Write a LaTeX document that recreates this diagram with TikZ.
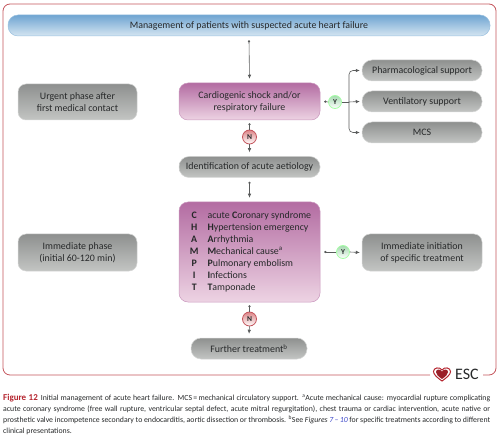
\documentclass[tikz,border=0pt]{standalone}
\usepackage{fontspec}
\setmainfont{Carlito}
\usetikzlibrary{arrows.meta,calc}
\definecolor{txt}{HTML}{262829}
\definecolor{esc}{HTML}{B5252F}
\definecolor{frameR}{HTML}{C4545C}
\definecolor{capBlue}{HTML}{3A45C8}
\definecolor{gray1}{HTML}{8E908F}
\definecolor{gray2}{HTML}{C3C5C3}
\definecolor{gray3}{HTML}{5A5C5C}
\definecolor{pink1}{HTML}{B36CA2}
\definecolor{pink2}{HTML}{EDD3E3}
\definecolor{pink3}{HTML}{DC8587}
\definecolor{green2}{HTML}{A5D8B0}
\definecolor{blue1}{HTML}{6FA5D2}
\definecolor{blue2}{HTML}{D5E5F1}
\tikzset{
  x=1pt,y=-1pt,
  box/.style={draw=#1!70!white,line width=.5pt,rounded corners=9pt,inner sep=0pt,align=center,text=txt,font=\fontsize{9.9}{12}\selectfont},
  graybox/.style={box=gray2,top color=gray1,bottom color=gray2,rounded corners=#1},
  graybox/.default=8pt,
  pinkbox/.style={box=pink1,top color=pink1,bottom color=pink2,rounded corners=9pt},
  yn/.style={circle,inner sep=0pt,text=txt,font=\fontsize{7.5}{8}\bfseries\selectfont},
  ynyes/.style={yn,minimum size=13pt,draw=green!35!white,line width=.8pt,top color=green2,bottom color=white},
  ynno/.style={yn,minimum size=14pt,draw=frameR,line width=.8pt,top color=pink3,bottom color=white},
  link/.style={draw=gray3,line width=.6pt,{Circle[length=2.2pt]}-{Latex[length=4pt,width=3.6pt]}},
  plainl/.style={draw=gray3,line width=.6pt},
  arrowl/.style={draw=gray3,line width=.6pt,-{Latex[length=4pt,width=3.6pt]}},
  captext/.style={anchor=west,inner sep=0pt,text=txt,font=\fontsize{7.8}{9}\selectfont},
}
\begin{document}
\begin{tikzpicture}
\useasboundingbox (0,0) rectangle (500,438);
% frame with gap for logo
\draw[frameR,line width=.8pt,rounded corners=7pt] (430,375) -- (3,375) -- (3,4) -- (496,4) -- (496,375) -- (483,375);
% boxes
\node[box=blue1,top color=blue1,bottom color=blue2,rounded corners=10pt,minimum width=482pt,minimum height=21pt] (head) at (249,25.5) {Management of patients with suspected acute heart failure};
\node[graybox,minimum width=119pt,minimum height=36pt] (urgent) at (77.5,102) {Urgent phase after\\first medical contact};
\node[pinkbox,minimum width=141pt,minimum height=37pt] (cardio) at (249.5,101.5) {Cardiogenic shock and/or\\respiratory failure};
\node[graybox=10pt,minimum width=120pt,minimum height=21pt] (pharm) at (422,70.5) {Pharmacological support};
\node[graybox=10pt,minimum width=120pt,minimum height=21pt] (vent) at (422,101.5) {Ventilatory support};
\node[graybox=10pt,minimum width=120pt,minimum height=21pt] (mcs) at (422,132.5) {MCS};
\node[graybox=10pt,minimum width=141pt,minimum height=21pt] (ident) at (249.5,167) {Identification of acute aetiology};
\node[pinkbox,minimum width=141pt,minimum height=100pt] (champit) at (249.5,252) {%
  \fontsize{9.9}{12.1}\selectfont
  \hspace*{2pt}\begin{tabular}{@{}c@{\hspace{9pt}}l@{}}
  \textbf{C} & acute \textbf{C}oronary syndrome\\
  \textbf{H} & \textbf{H}ypertension emergency\\
  \textbf{A} & \textbf{A}rrhythmia\\
  \textbf{M} & \textbf{M}echanical cause\textsuperscript{a}\\
  \textbf{P} & \textbf{P}ulmonary embolism\\
  \textbf{I} & \textbf{I}nfections\\
  \textbf{T} & \textbf{T}amponade\\
  \end{tabular}};
\node[graybox,minimum width=119pt,minimum height=37pt] (immed) at (77.5,252.5) {Immediate phase\\(initial 60-120 min)};
\node[graybox,minimum width=120pt,minimum height=37pt] (init) at (422,252.5) {Immediate initiation\\of specific treatment};
\node[graybox=10pt,minimum width=116pt,minimum height=21pt] (further) at (249,348.5) {Further treatment\textsuperscript{b}};
% decision circles
\node[ynno] (n1) at (249.5,137) {N};
\node[ynno] (n2) at (249.5,319) {N};
\node[ynyes] (y1) at (335,102) {Y};
\node[ynyes] (y2) at (343,252) {Y};
% connectors
\draw[link] ($(head.south)+(0,4)$) -- ($(cardio.north)+(0,-4)$);
\draw[plainl,{Circle[length=2.2pt]}-] ($(cardio.south)+(0,3)$) -- (n1.north);
\draw[arrowl] (n1.south) -- ($(ident.north)+(0,-4)$);
\draw[link] ($(ident.south)+(0,4)$) -- ($(champit.north)+(0,-4)$);
\draw[plainl,{Circle[length=2.2pt]}-] ($(champit.south)+(0,3)$) -- (n2.north);
\draw[arrowl] (n2.south) -- ($(further.north)+(0,-4)$);
\draw[plainl,{Circle[length=2.2pt]}-] ($(cardio.east)+(4,0)$) -- (y1.west);
\coordinate (fork) at (349,102);
\draw[plainl] (y1.east) -- (fork);
\draw[arrowl] (fork) -- ($(vent.west)+(-2,0)$);
\draw[arrowl,rounded corners=4pt] (fork) |- ($(pharm.west)+(-2,0)$);
\draw[arrowl,rounded corners=4pt] (fork) |- ($(mcs.west)+(-2,0)$);
\draw[plainl,{Circle[length=2.2pt]}-] ($(champit.east)+(4,0)$) -- (y2.west);
\draw[arrowl] (y2.east) -- ($(init.west)+(-2,0)$);
% ESC logo
\draw[draw=esc,line width=1pt,fill=white,shift={(442,374)}]
  (0,7) .. controls (-5,3.5) and (-8.5,0.5) .. (-8.5,-2.5) .. controls (-8.5,-6.5) and (-2.5,-7.5) .. (0,-4)
  .. controls (2.5,-7.5) and (8.5,-6.5) .. (8.5,-2.5) .. controls (8.5,0.5) and (5,3.5) .. (0,7) -- cycle;
\fill[esc!85!black,shift={(442,374)}]
  (0,5) .. controls (-3.5,2.5) and (-6,0.5) .. (-6,-2) .. controls (-6,-4.8) and (-2,-5.5) .. (0,-2.5)
  .. controls (2,-5.5) and (6,-4.8) .. (6,-2) .. controls (6,0.5) and (3.5,2.5) .. (0,5) -- cycle;
\node[inner sep=0pt,text=txt,font=\fontsize{16}{16}\selectfont] (esc) at (467,374.5) {ESC};
% caption
\node[captext] (c1) at (3,398) {\makebox[487pt][s]{\textcolor{esc}{\textbf{\fontsize{9}{9}\selectfont Figure 12}}\hspace{3pt}Initial management of acute heart failure. MCS\,=\,mechanical circulatory support. \textsuperscript{a}Acute mechanical cause: myocardial rupture complicating}};
\node[captext] (c2) at (3,409.5) {\makebox[487pt][s]{acute coronary syndrome (free wall rupture, ventricular septal defect, acute mitral regurgitation), chest trauma or cardiac intervention, acute native or}};
\node[captext] (c3) at (3,420) {\makebox[487pt][s]{prosthetic valve incompetence secondary to endocarditis, aortic dissection or thrombosis. \textsuperscript{b}See \textit{Figures} \textcolor{capBlue}{\textit{7\,–\,10}} for specific treatments according to different}};
\node[captext] (c4) at (3,431) {clinical presentations.};
\end{tikzpicture}
\end{document}
